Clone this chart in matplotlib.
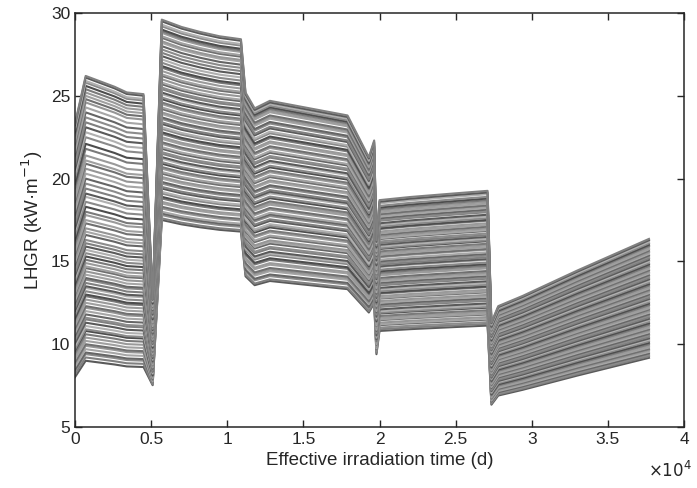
import numpy as np
import matplotlib
matplotlib.use("Agg")
import matplotlib.pyplot as plt
from matplotlib.ticker import FuncFormatter

plt.rcParams["font.family"] = ["Liberation Sans", "DejaVu Sans"]

# breakpoints (d) and relative shape of each cycle
cyc1_x = [0, 700, 2600, 3400, 4500]
cyc1_s = [0.89, 1.0, 0.975, 0.962, 0.958]
cyc2_x = [5100, 5700, 7000, 8200, 9500, 10900]
cyc2_s = [0.43, 1.0, 0.985, 0.975, 0.966, 0.96]
cyc3_x = [11200, 11800, 12800, 17900, 19300, 19650]
cyc3_s = [1.0, 0.962, 0.98, 0.945, 0.845, 0.885]
cyc4_x = [19800, 20000, 22000, 25000, 27100]
cyc4_s = [0.87, 1.0, 1.01, 1.022, 1.03]
cyc5_x = [27350, 27800, 29400, 33000, 37700]
cyc5_s = [0.92, 1.0, 1.05, 1.175, 1.33]

# rod LHGR level in each cycle (kW/m)
lvl1 = [9.0, 9.2, 9.4, 9.5, 9.7, 9.9, 10.0, 10.2, 10.4, 10.6,
        10.8, 10.9, 11.1, 11.3, 11.5, 11.6, 11.8, 12.0, 12.2, 12.3,
        12.5, 12.7, 12.9, 13.0, 13.2, 13.4, 13.5, 13.7, 13.9, 14.0,
        14.2, 14.4, 14.6, 14.7, 14.9, 15.1, 15.3, 15.5, 15.7, 15.9,
        16.1, 16.3, 16.6, 16.8, 17.0, 17.3, 17.5, 17.8, 18.0, 18.3,
        18.6, 18.9, 19.1, 19.4, 19.7, 20.0, 20.3, 20.6, 20.9, 21.1,
        21.4, 21.8, 22.1, 22.5, 22.8, 23.1, 23.4, 23.7, 24.0, 24.3,
        24.6, 24.8, 25.0, 25.2, 25.4, 25.6, 25.8, 25.9, 26.1, 26.2]
lvl2 = [17.5, 17.6, 17.8, 17.9, 18.0, 18.2, 18.3, 18.5, 18.6, 18.8,
        18.9, 19.1, 19.2, 19.4, 19.5, 19.7, 19.8, 20.0, 20.1, 20.3,
        20.4, 20.6, 20.7, 20.9, 21.0, 21.2, 21.3, 21.5, 21.6, 21.8,
        21.9, 22.1, 22.2, 22.4, 22.5, 22.7, 22.8, 23.0, 23.1, 23.3,
        23.4, 23.6, 23.7, 23.9, 24.0, 24.2, 24.3, 24.5, 24.6, 24.8,
        24.9, 25.1, 25.2, 25.4, 25.5, 25.7, 25.8, 26.0, 26.2, 26.3,
        26.5, 26.7, 26.8, 27.0, 27.2, 27.4, 27.6, 27.8, 28.0, 28.2,
        28.3, 28.5, 28.6, 28.8, 28.9, 29.0, 29.2, 29.3, 29.5, 29.6]
lvl3 = [14.1, 14.2, 14.4, 14.5, 14.7, 14.8, 14.9, 15.1, 15.2, 15.4,
        15.5, 15.7, 15.8, 15.9, 16.1, 16.2, 16.4, 16.5, 16.6, 16.8,
        16.9, 17.1, 17.2, 17.4, 17.5, 17.6, 17.8, 17.9, 18.1, 18.2,
        18.3, 18.5, 18.6, 18.8, 18.9, 19.0, 19.2, 19.3, 19.5, 19.6,
        19.7, 19.9, 20.0, 20.2, 20.3, 20.5, 20.6, 20.8, 20.9, 21.1,
        21.2, 21.4, 21.5, 21.7, 21.8, 22.0, 22.1, 22.3, 22.4, 22.6,
        22.7, 22.9, 23.0, 23.2, 23.3, 23.5, 23.6, 23.8, 23.9, 24.1,
        24.2, 24.3, 24.5, 24.6, 24.7, 24.8, 24.9, 25.0, 25.1, 25.2]
lvl4 = [10.8, 10.9, 11.0, 11.15, 11.2, 11.3, 11.45, 11.5, 11.6, 11.7,
        11.85, 11.9, 12.0, 12.1, 12.25, 12.3, 12.4, 12.5, 12.6, 12.75,
        12.8, 12.9, 13.05, 13.1, 13.2, 13.3, 13.4, 13.55, 13.6, 13.7,
        13.8, 13.9, 14.0, 14.15, 14.2, 14.3, 14.4, 14.5, 14.65, 14.7,
        14.8, 14.9, 15.0, 15.1, 15.25, 15.3, 15.4, 15.5, 15.6, 15.75,
        15.8, 15.9, 16.0, 16.1, 16.2, 16.35, 16.4, 16.5, 16.6, 16.7,
        16.8, 16.95, 17.0, 17.1, 17.2, 17.3, 17.45, 17.5, 17.6, 17.7,
        17.8, 17.85, 17.95, 18.05, 18.15, 18.25, 18.35, 18.5, 18.6, 18.7]
lvl5 = [6.90, 6.97, 7.03, 7.10, 7.17, 7.24, 7.30, 7.37, 7.44, 7.51,
        7.58, 7.65, 7.72, 7.78, 7.85, 7.92, 7.99, 8.06, 8.13, 8.19,
        8.26, 8.33, 8.40, 8.47, 8.54, 8.61, 8.67, 8.74, 8.81, 8.88,
        8.95, 9.02, 9.09, 9.15, 9.22, 9.29, 9.36, 9.43, 9.50, 9.57,
        9.63, 9.70, 9.77, 9.84, 9.91, 9.98, 10.05, 10.11, 10.18, 10.25,
        10.32, 10.39, 10.46, 10.53, 10.59, 10.66, 10.73, 10.80, 10.87, 10.94,
        11.01, 11.07, 11.14, 11.21, 11.28, 11.35, 11.42, 11.49, 11.55, 11.62,
        11.69, 11.76, 11.83, 11.90, 11.97, 12.03, 12.10, 12.17, 12.24, 12.30]

grays = ["#5a5a5a", "#8c8c8c", "#a6a6a6", "#707070", "#9a9a9a", "#4d4d4d",
         "#b0b0b0", "#808080", "#666666", "#969696", "#a0a0a0", "#7a7a7a", "#8a8a8a"]

x_all = np.array(cyc1_x + cyc2_x + cyc3_x + cyc4_x + cyc5_x, dtype=float)

fig = plt.figure(figsize=(6.97, 4.88), dpi=100)
ax = fig.add_axes([75 / 697, 61 / 488, 609 / 697, 414 / 488])

for i in range(len(lvl1)):
    y = np.concatenate([
        lvl1[i] * np.array(cyc1_s),
        lvl2[i] * np.array(cyc2_s),
        lvl3[i] * np.array(cyc3_s),
        lvl4[i] * np.array(cyc4_s),
        lvl5[i] * np.array(cyc5_s),
    ])
    ax.plot(x_all, y, color=grays[(i * 7) % len(grays)], lw=1.5)

ax.set_xlim(0, 40000)
ax.set_ylim(5, 30)
ax.set_xticks(np.arange(0, 40001, 5000))
ax.set_yticks([5, 10, 15, 20, 25, 30])
ax.xaxis.set_major_formatter(FuncFormatter(lambda v, p: "%g" % (v / 1e4)))
ax.tick_params(direction="in", length=5, width=1, labelsize=12.5,
               top=True, right=True, colors="#262626")
for s in ax.spines.values():
    s.set_linewidth(1.1)
    s.set_color("#262626")

ax.set_xlabel("Effective irradiation time (d)", fontsize=13.5, color="#262626")
ax.set_ylabel("LHGR (kW·m$^{-1}$)", fontsize=13.5, color="#262626")
fig.text(648 / 697, 1 - 470 / 488, r"$\times10^{4}$", fontsize=12,
         color="#262626", ha="left", va="center")

fig.savefig("out.png", dpi=100)
